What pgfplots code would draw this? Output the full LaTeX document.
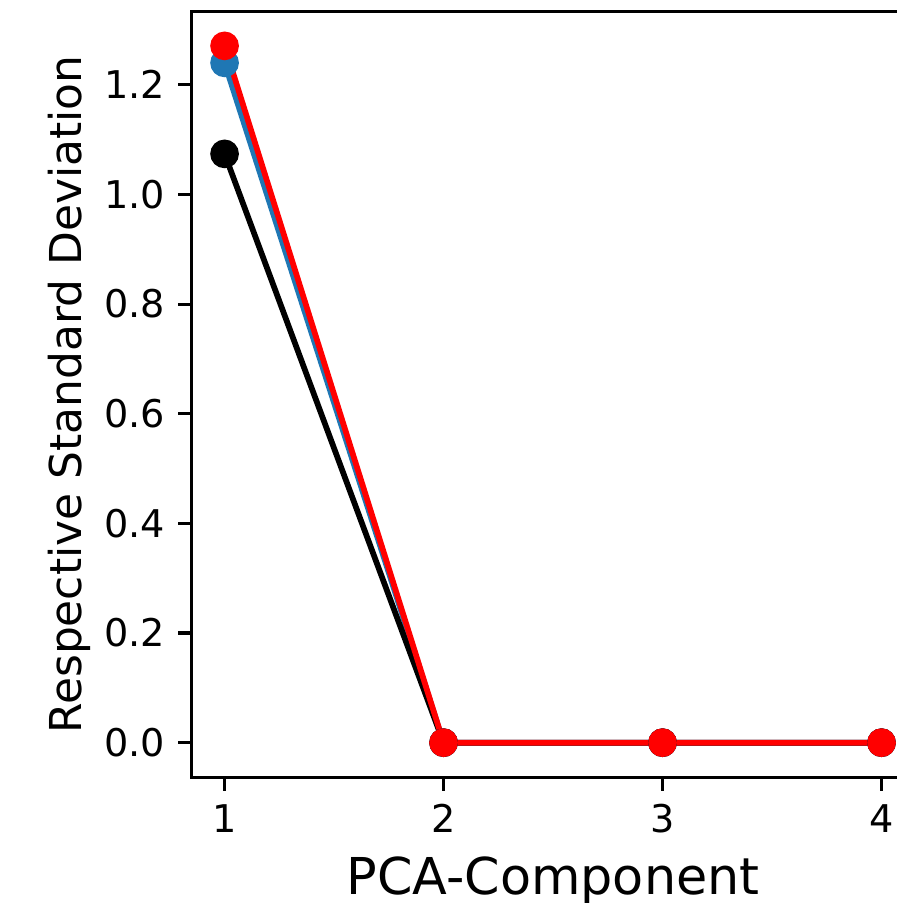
\documentclass[border=0pt]{standalone}
\usepackage{pgfplots}
\pgfplotsset{compat=1.18}
\usepackage{fontspec}
\setmainfont{DejaVu Sans}
\definecolor{mplblue}{HTML}{1F77B4}
\begin{document}
\begin{tikzpicture}
\useasboundingbox (0,0) rectangle (234.8pt,236.4pt);
\begin{axis}[
  at={(50.19pt,32.86pt)}, anchor=south west,
  scale only axis, width=189.2pt, height=200.5pt,
  xmin=0.85, xmax=4.15, ymin=-0.0635, ymax=1.3335,
  xtick={1,2,3,4}, ytick={0,0.2,0.4,0.6,0.8,1.0,1.2},
  yticklabel style={/pgf/number format/fixed,/pgf/number format/fixed zerofill,/pgf/number format/precision=1},
  /pgf/number format/assume math mode=true,
  tick label style={font=\fontsize{10}{12}\selectfont},
  tick align=outside, tick pos=left,
  major tick length=3.5pt,
  every tick/.style={black, line width=0.8pt},
  axis line style={line width=0.8pt},
  axis lines*=box,
  xlabel={PCA-Component}, ylabel={Respective Standard Deviation},
  xlabel style={font=\fontsize{13.3}{15}\selectfont},
  ylabel style={font=\fontsize{11.5}{14}\selectfont},
  ylabel shift=-3.4pt,
  xlabel shift=-0.6pt,
  clip=false,
]
\addplot[mplblue, line width=1.5pt, mark=*, mark size=3pt, mark options={solid, draw=mplblue, fill=mplblue}] coordinates {(1,1.24) (2,0) (3,0) (4,0)};
\addplot[black, line width=1.5pt, mark=*, mark size=3pt, mark options={solid, draw=black, fill=black}] coordinates {(1,1.074) (2,0) (3,0) (4,0)};
\addplot[red, line width=1.5pt, mark=*, mark size=3pt, mark options={solid, draw=red, fill=red}] coordinates {(1,1.271) (2,0) (3,0) (4,0)};
\end{axis}
\end{tikzpicture}
\end{document}
